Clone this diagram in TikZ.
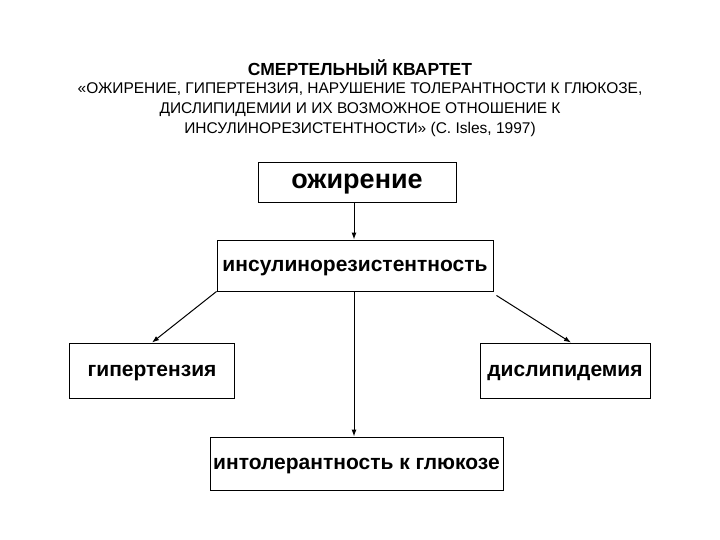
\documentclass[tikz,border=0pt]{standalone}
\usepackage{fontspec}
\usetikzlibrary{arrows.meta}
\setmainfont{Liberation Sans}
\begin{document}
\begin{tikzpicture}[x=1pt,y=-1pt,
 box/.style={draw,line width=0.9pt,inner sep=0,text height=15pt,text depth=4pt,font=\bfseries\fontsize{21}{24}\selectfont},
 arr/.style={-{Latex[length=7pt,width=5pt]},line width=1pt}]
\useasboundingbox (0,0) rectangle (720,540);
\node[font=\bfseries\fontsize{17.5}{20}\selectfont] (t) at (360,68) {СМЕРТЕЛЬНЫЙ КВАРТЕТ};
\node[font=\fontsize{15.5}{20}\selectfont,align=center] (s) at (360,110) {«ОЖИРЕНИЕ, ГИПЕРТЕНЗИЯ, НАРУШЕНИЕ ТОЛЕРАНТНОСТИ К ГЛЮКОЗЕ,\\ДИСЛИПИДЕМИИ И ИХ ВОЗМОЖНОЕ ОТНОШЕНИЕ К\\ИНСУЛИНОРЕЗИСТЕНТНОСТИ» (C. Isles, 1997)};
\node[box,minimum width=198,minimum height=40,text height=19pt,text depth=5pt,font=\bfseries\fontsize{27}{30}\selectfont] (o) at (357,182) {ожирение};
\node[box,minimum width=276,minimum height=51] (i) at (355,265.5) {инсулинорезистентность};
\node[box,minimum width=165,minimum height=55] (g) at (152,370.5) {гипертензия};
\node[box,minimum width=170,minimum height=55] (d) at (565,370.5) {дислипидемия};
\node[box,minimum width=293,minimum height=53] (n) at (356.5,463.5) {интолерантность к глюкозе};
\draw[arr] (o.south -| 354,0) -- (i.north -| 354,0);
\draw[arr] (i.south -| 354,0) -- (n.north -| 354,0);
\draw[arr] (i.south west) -- (g.north);
\draw[arr] ([xshift=3pt,yshift=-4pt]i.south east) -- ([xshift=6pt]d.north);
\end{tikzpicture}
\end{document}
